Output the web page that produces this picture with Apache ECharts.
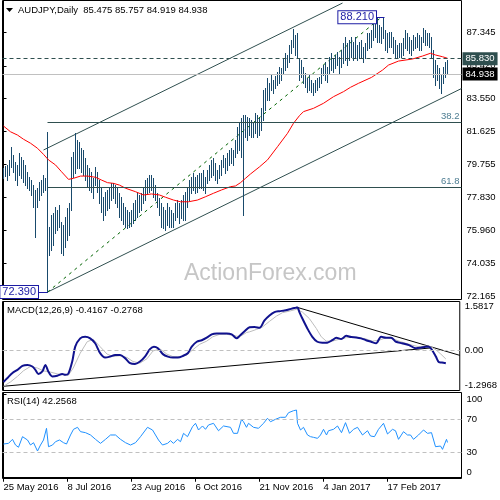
<!DOCTYPE html>
<html><head><meta charset="utf-8">
<script src="https://cdn.jsdelivr.net/npm/echarts@6/dist/echarts.min.js"></script>
<style>html,body{margin:0;padding:0;background:#fff}#c{width:500px;height:500px}</style>
</head><body><div id="c"></div>
<script>
// ---- data ----
const highs = [
79.53,79.65,79.71,79.99,80.74,80.28,79.88,79.71,80.40,80.17,
79.99,79.71,79.30,79.02,78.84,78.56,78.27,78.38,78.73,78.84,
79.13,78.96,81.61,76.14,76.83,76.94,77.29,77.12,77.40,76.43,
76.25,76.71,77.23,77.52,80.17,80.46,81.55,81.15,81.03,80.69,
80.57,80.11,79.71,79.53,79.30,78.96,79.59,79.30,78.84,78.38,
77.86,78.15,78.27,78.38,78.67,78.67,78.56,78.44,78.09,77.86,
77.52,77.29,77.12,77.00,77.12,77.52,77.69,78.09,77.98,78.09,
78.44,78.84,78.96,79.13,79.13,78.96,78.56,78.09,77.81,77.52,
77.29,77.12,77.52,77.29,77.12,76.94,77.52,77.69,77.52,77.69,
77.98,78.15,78.44,78.84,79.02,79.25,79.02,79.13,79.25,79.25,
79.42,79.02,79.42,79.71,79.99,80.11,79.82,79.42,79.71,79.99,
80.28,80.11,80.40,80.57,80.69,80.57,81.15,81.89,82.18,82.41,
82.59,82.59,82.47,82.41,82.30,82.12,82.70,82.59,82.41,82.99,
84.02,84.14,84.72,84.43,84.89,84.60,84.83,85.06,85.35,85.29,
85.87,86.16,86.04,86.61,86.90,87.54,87.19,87.31,85.87,85.75,
85.35,85.00,84.72,84.89,84.60,84.43,84.60,84.72,84.77,85.29,
85.46,85.64,85.35,85.92,86.16,85.87,86.04,86.21,85.92,86.33,
86.73,87.08,86.73,86.90,87.08,86.79,87.08,86.61,86.79,86.90,
86.50,86.73,87.31,87.31,87.48,87.88,88.05,88.17,87.77,87.65,
88.21,87.48,87.31,87.36,87.36,87.08,86.90,86.61,86.73,86.73,
87.02,87.48,87.31,87.08,86.90,87.19,87.08,87.31,87.19,87.08,
87.59,87.48,87.31,87.31,87.08,86.33,85.75,85.46,85.29,84.89,
85.35,85.64,85.757];
const lows = [
78.96,79.07,78.84,79.13,79.59,79.30,78.84,78.56,79.13,78.96,
78.73,78.56,78.38,78.27,77.98,77.29,75.56,77.29,77.69,77.98,
78.15,78.27,72.39,74.52,74.81,75.10,75.79,75.96,76.14,74.64,
74.52,74.99,75.39,75.68,77.12,79.02,79.25,79.53,79.53,79.30,
79.13,78.84,78.44,78.27,78.15,77.81,78.56,78.15,77.52,77.00,
76.54,76.83,77.12,77.23,77.69,77.81,77.52,77.29,76.71,76.54,
76.31,76.14,76.08,76.14,76.20,76.37,76.54,76.71,77.00,77.12,
77.52,77.69,78.09,78.15,78.27,77.86,77.69,77.29,76.83,76.14,
76.08,75.96,76.25,76.14,76.14,76.14,76.54,76.71,76.37,76.66,
76.54,76.54,77.29,77.69,78.09,78.27,78.09,78.15,78.38,78.38,
78.27,78.09,78.67,78.84,79.02,79.13,78.84,78.67,78.96,79.13,
79.59,79.25,79.42,79.71,79.82,79.71,80.17,80.40,80.57,80.17,
76.83,81.32,81.15,81.43,81.32,81.32,81.55,81.32,81.43,81.72,
82.30,82.87,83.45,83.45,84.02,83.85,84.14,84.31,84.43,84.60,
85.00,85.18,85.35,85.64,86.16,86.50,86.04,85.92,84.60,84.77,
84.43,84.20,83.91,84.02,83.91,83.74,83.91,84.02,84.20,84.43,
84.89,84.60,84.49,85.00,85.18,85.06,85.29,85.46,85.00,85.35,
85.58,85.75,85.46,85.75,85.92,85.75,85.92,85.75,85.87,85.92,
85.64,85.87,86.33,86.44,86.50,86.90,87.08,86.79,86.79,86.73,
87.02,86.33,86.21,86.50,86.50,86.16,85.92,85.87,85.92,85.92,
86.04,86.44,86.33,86.16,86.04,86.33,86.44,86.50,86.33,86.33,
86.79,86.61,86.61,86.50,85.92,84.77,84.31,84.60,84.14,83.85,
84.43,84.77,84.919];
const maPoints = [[0,81.95],[3.5,81.62],[7,81.43],[10,81.19],[13.5,80.96],[17,80.67],[20,80.32],[22.5,80.0],[26,79.71],[29,79.32],[32.5,78.88],[35,78.94],[38.5,79.07],[42,79.07],[46,79.0],[49,78.84],[52,78.69],[55,78.65],[58,78.55],[61,78.37],[66,78.17],[70,77.98],[74,78.04],[78,77.98],[81,77.85],[85,77.69],[88.5,77.59],[92.5,77.59],[97,77.69],[101,77.88],[105,78.08],[109,78.27],[113.5,78.46],[116,78.5],[118.5,78.69],[121,78.94],[123.5,79.19],[128,79.6],[132,80.0],[137,80.76],[142,81.53],[145,82.11],[148,82.55],[150,82.78],[155,82.97],[160,83.26],[165,83.64],[170,83.93],[173.5,84.18],[177.5,84.41],[184,84.75],[189.5,85.17],[192.5,85.46],[197.5,85.69],[204.5,85.81],[209.5,85.98],[213.5,86.14],[216,86.04],[219.5,85.94],[222,85.85]];
const macdPoints = [[0,-1.02],[2,-0.89],[4.5,-0.73],[7,-0.63],[9.5,-0.50],[12,-0.47],[14.5,-0.52],[16,-0.63],[17.5,-0.76],[19.5,-0.68],[21,-0.47],[22.5,-0.68],[24.5,-0.84],[27,-0.82],[29.5,-0.76],[31,-0.79],[32.5,-0.76],[34.5,-0.36],[36,0.12],[38.5,0.39],[41,0.44],[43.5,0.39],[46,0.23],[48.5,-0.09],[51,-0.23],[53.5,-0.20],[56,-0.15],[58.5,-0.15],[61,-0.25],[63.5,-0.41],[66,-0.44],[68.5,-0.36],[71,-0.20],[73.5,0.04],[75.5,0.12],[77.5,0.07],[80,-0.12],[82.5,-0.20],[85,-0.23],[87.5,-0.23],[90,-0.18],[92.5,-0.09],[94.5,0.12],[97,0.28],[99.5,0.33],[102,0.41],[104.5,0.52],[107,0.55],[109.5,0.55],[112,0.55],[114.5,0.52],[117,0.39],[118.5,0.47],[121,0.62],[123.5,0.75],[126,0.76],[128.5,0.73],[131,0.97],[133.5,1.13],[136,1.24],[138.5,1.27],[141,1.29],[143.5,1.33],[146,1.37],[147.5,1.39],[148.5,1.24],[150,1.03],[152.5,0.71],[155,0.44],[157.5,0.28],[160,0.25],[162.5,0.25],[165,0.33],[167,0.41],[169.5,0.37],[172,0.47],[174.5,0.43],[177,0.42],[179.5,0.39],[182,0.33],[184.5,0.28],[187,0.23],[189.5,0.44],[192,0.41],[194.5,0.41],[197,0.28],[200,0.23],[203.5,0.17],[207,0.07],[209.5,0.09],[212,0.12],[213.5,0.12],[215,0.02],[217,-0.20],[218.5,-0.38],[220,-0.39],[222,-0.4167]];
const signalPoints = [[0,-1.16],[3.5,-1.02],[7,-0.84],[10,-0.66],[13.5,-0.52],[17,-0.57],[20,-0.66],[23.5,-0.70],[27,-0.76],[30,-0.79],[32.5,-0.81],[35,-0.57],[38.5,-0.09],[42,0.28],[45,0.36],[48.5,0.12],[52,-0.12],[55,-0.20],[58.5,-0.17],[62,-0.23],[65,-0.36],[68.5,-0.41],[72,-0.27],[75,-0.02],[78.5,0.05],[82,-0.12],[85,-0.20],[88.5,-0.21],[92,-0.15],[95,0.02],[98.5,0.20],[102,0.30],[105,0.44],[108.5,0.52],[112,0.52],[115,0.49],[118.5,0.44],[122,0.58],[123.5,0.60],[127,0.68],[130,0.76],[133.5,0.94],[137,1.11],[140,1.22],[143.5,1.27],[147,1.33],[150,1.24],[153.5,1.03],[157,0.71],[159.5,0.44],[162,0.30],[165,0.30],[168.5,0.36],[172,0.41],[177,0.43],[182,0.37],[185,0.30],[188.5,0.33],[192,0.41],[195,0.39],[198.5,0.30],[202,0.23],[205,0.17],[208.5,0.12],[212,0.14],[214.5,0.12],[217,0.02],[219.5,-0.12],[222,-0.2768]];
const rsiPoints = [[0,40.4],[2.5,41.2],[4.5,46],[6,39.2],[7.5,36.5],[9.5,49.2],[12,45.2],[13.5,39.2],[15,42],[17,32],[18.5,39.2],[20,45.2],[21.5,59.2],[22.5,37.2],[24.5,39.2],[26,43.2],[28,45.2],[30,42],[31.5,40.4],[33.5,51.2],[35,58],[37,60.4],[38.5,55.2],[41,54],[43.5,51.2],[46,46],[48.5,41.2],[51,46],[53.5,51.2],[56,51.2],[58.5,46],[61,42],[63.5,39.2],[66,42],[68.5,49.2],[72,60.4],[74.5,57.2],[76,51.2],[77.5,45.2],[79.5,39.2],[82,41.2],[83.5,44.4],[85,41.2],[87,46],[88.5,43.2],[90,53.2],[92,49.2],[94.5,61.1],[96,65.2],[97.5,57.2],[99.5,62],[101,58],[102.5,63.2],[105,65.2],[107.5,56.3],[110,62],[113.5,60.4],[115,53.2],[117,53.2],[119,70],[120,67.1],[121.5,60.4],[122.5,65.2],[123.5,67.1],[125,60.4],[127.5,59.2],[130,65.2],[132,71.2],[133.5,67.1],[136,70],[138.5,72.4],[141,72.4],[142.5,77.9],[145,80.3],[146.5,81.1],[147,65.2],[148.5,57.2],[150,60.4],[152,51.2],[153.5,49.2],[155,48.4],[157,47.2],[158.5,51.2],[160,58],[161.5,51.2],[162.5,56.3],[165,58],[167,62],[169,54],[171,66],[173,53.2],[175,58],[177,60.4],[179.5,51.2],[182,56.3],[183.5,50],[185.5,49.2],[187.5,58],[190,65.2],[192,52.4],[194.5,58],[196,56.3],[197.5,46],[200,55.2],[202,51.2],[203.5,51.2],[205,46],[207.5,51.2],[210,57.2],[212,53.2],[214,54],[216,37.2],[217,35.3],[218.5,38],[219.5,34],[221.5,46],[222,42.26]];
const dateTicks = [0,32,64,96,128,160,192];
const dateLabels = ['25 May 2016','8 Jul 2016','23 Aug 2016','6 Oct 2016','21 Nov 2016','4 Jan 2017','17 Feb 2017'];
const priceTicks = [72.165,74.035,75.960,77.830,79.755,81.625,83.550,85.420,87.345];
const macdTicks = [-1.2968,0,1.5817];
const rsiTicks = [0,30,70,100];
const lastOHLC = ['85.475','85.757','84.919','84.938'];
const macdLast = ['-0.4167','-0.2768'];
const rsiLast = '42.2568';
const swingHigh = 88.21, swingLow = 72.39;
const fib382 = 82.167, fib618 = 78.433;
const levelDashed = 85.83, lastClose = 84.938;
const upperChannel = [[20,80.57],[169.5,89.03]];
const lowerChannel = [[22,72.39],[229,84.11]];
const greenTrend = [[22,72.39],[188.5,88.17]];
const macdLowerTrend = [[0,-1.16],[214.5,0.08]];
const macdUpperTrend = [[147,1.40],[229,-0.16]];

// ---- chart ----
const FONT = 'Liberation Sans';
const chart = echarts.init(document.getElementById('c'));
const xBase = {type:'value', min:-0.5, max:229, splitLine:{show:false}};
const frame = {show:true, borderColor:'#000', borderWidth:1, backgroundColor:'transparent', containLabel:false};
const yLabelBase = {fontSize:9.5, color:'#000', fontFamily:FONT, margin:5};
const lineSeg = (data, xi, color, type) => ({type:'line', xAxisIndex:xi, yAxisIndex:xi, data, symbol:'none', silent:true,
  lineStyle:{color, width:1, type:type||'solid'}, z:1});

chart.setOption({
  animation:false,
  grid:[
    Object.assign({left:2.5, top:0.5, width:459, height:299}, frame),
    Object.assign({left:2.5, top:301.5, width:459, height:89}, frame),
    Object.assign({left:2.5, top:392.5, width:459, height:86}, frame)
  ],
  xAxis:[
    Object.assign({gridIndex:0, show:false}, xBase),
    Object.assign({gridIndex:1, show:false}, xBase),
    Object.assign({gridIndex:2, axisLine:{show:true, lineStyle:{color:'#000'}},
      axisTick:{show:true, customValues:dateTicks, length:4, lineStyle:{color:'#000'}},
      axisLabel:{customValues:dateTicks, formatter:v=>dateLabels[dateTicks.indexOf(v)] || '', align:'left',
        fontSize:9.5, color:'#000', fontFamily:FONT, margin:4}}, xBase)
  ],
  yAxis:[
    {gridIndex:0, type:'value', position:'right', min:71.964, max:89.177, splitLine:{show:false},
      axisLine:{show:true, lineStyle:{color:'#000'}},
      axisTick:{show:true, customValues:priceTicks, length:3, lineStyle:{color:'#000'}},
      axisLabel:Object.assign({customValues:priceTicks, formatter:v=>v.toFixed(3)}, yLabelBase)},
    {gridIndex:1, type:'value', position:'right', min:-1.2968, max:1.5817, splitLine:{show:false},
      axisLine:{show:true, lineStyle:{color:'#000'}},
      axisTick:{show:true, customValues:macdTicks, length:3, lineStyle:{color:'#000'}},
      axisLabel:Object.assign({customValues:macdTicks, formatter:v=>v===0?'0.00':v.toFixed(4),
        verticalAlignMinLabel:'bottom', verticalAlignMaxLabel:'top'}, yLabelBase)},
    {gridIndex:2, type:'value', position:'right', min:-0.9, max:102.1, splitLine:{show:false},
      axisLine:{show:true, lineStyle:{color:'#000'}},
      axisTick:{show:true, customValues:rsiTicks, length:3, lineStyle:{color:'#000'}},
      axisLabel:Object.assign({customValues:rsiTicks, formatter:v=>String(Math.round(v)),
        verticalAlignMinLabel:'bottom', verticalAlignMaxLabel:'top'}, yLabelBase)}
  ],
  graphic:[
    {type:'polygon', shape:{points:[[6,8],[13,8],[9.5,12]]}, style:{fill:'#000'}},
    {type:'text', x:18, y:10.5, style:{text:'AUDJPY,Daily  ' + lastOHLC.join(' '), fill:'#000', font:'9.5px "'+FONT+'"', verticalAlign:'middle'}},
    {type:'text', x:7, y:310, style:{text:'MACD(12,26,9) ' + macdLast.join(' '), fill:'#000', font:'9.5px "'+FONT+'"', verticalAlign:'middle'}},
    {type:'text', x:7, y:401.5, style:{text:'RSI(14) ' + rsiLast, fill:'#000', font:'9.5px "'+FONT+'"', verticalAlign:'middle'}},
    {type:'text', x:184, y:274, z:-1, style:{text:'ActionForex.com', fill:'#c6c6c6', font:'23px "'+FONT+'"', verticalAlign:'middle'}}
  ],
  series:[
    lineSeg(upperChannel, 0, '#2f4f4f'),
    lineSeg(lowerChannel, 0, '#2f4f4f'),
    lineSeg(greenTrend, 0, '#006400', [3,4]),
    {type:'custom', xAxisIndex:0, yAxisIndex:0, silent:true, z:3,
      dimensions:['i','h','l'], encode:{x:0, y:[1,2]},
      data: highs.map((h,i)=>[i,h,lows[i]]),
      renderItem:(params, api)=>{
        const a = api.coord([api.value(0), api.value(1)]);
        const b = api.coord([api.value(0), api.value(2)]);
        const x = Math.floor(a[0]) + 0.5;
        return {type:'line', shape:{x1:x, y1:Math.round(a[1]), x2:x, y2:Math.round(b[1])+1},
          style:{stroke:'#194a6c', lineWidth:1}};
      }},
    {type:'line', xAxisIndex:0, yAxisIndex:0, data:maPoints, symbol:'none', silent:true, z:4,
      lineStyle:{color:'#ff0000', width:1},
      markLine:{silent:true, symbol:['none','none'], label:{show:false},
        data:[
          {yAxis:levelDashed, lineStyle:{color:'#2f4f4f', type:[4,3], width:1},
            label:{show:true, position:'end', distance:1, formatter:'85.830', color:'#fff', backgroundColor:'#2f4f4f',
              padding:[2,3,1,3], fontSize:9.5, fontFamily:FONT}},
          {yAxis:lastClose, lineStyle:{color:'#c0c0c0', type:'solid', width:1},
            label:{show:true, position:'end', distance:1, formatter:'84.938', color:'#fff', backgroundColor:'#000',
              padding:[2,3,1,3], fontSize:9.5, fontFamily:FONT}},
          [{coord:[22,fib382], lineStyle:{color:'#2f4f4f', type:'solid', width:1},
             label:{show:true, position:'insideEndTop', distance:[2,1], formatter:'38.2', color:'#4d7d92', fontSize:9.5, fontFamily:FONT}},
           {coord:[229,fib382]}],
          [{coord:[22,fib618], lineStyle:{color:'#2f4f4f', type:'solid', width:1},
             label:{show:true, position:'insideEndTop', distance:[2,1], formatter:'61.8', color:'#4d7d92', fontSize:9.5, fontFamily:FONT}},
           {coord:[229,fib618]}],
          [{coord:[186.5,swingHigh], lineStyle:{color:'#1c1ca4', type:'solid', width:1}}, {coord:[190.5,swingHigh]}],
          [{coord:[17.25,swingLow], lineStyle:{color:'#1c1ca4', type:'solid', width:1}}, {coord:[22,swingLow]}]
        ]},
      markPoint:{silent:true, symbol:'circle', symbolSize:1, itemStyle:{color:'rgba(0,0,0,0)'},
        data:[
          {coord:[190.5,swingHigh], label:{show:true, position:'left', distance:8, formatter:'88.210', color:'#1c1ca4',
            backgroundColor:'#fff', borderColor:'#1c1ca4', borderWidth:1, padding:[1,2,0,2], fontSize:11, fontFamily:FONT}},
          {coord:[22,swingLow], label:{show:true, position:'left', distance:9, formatter:'72.390', color:'#1c1ca4',
            backgroundColor:'#fff', borderColor:'#1c1ca4', borderWidth:1, padding:[1,2,0,2], fontSize:11, fontFamily:FONT}}
        ]}
    },
    lineSeg(macdLowerTrend, 1, '#000'),
    lineSeg(macdUpperTrend, 1, '#000'),
    {type:'line', xAxisIndex:1, yAxisIndex:1, data:signalPoints, symbol:'none', silent:true, z:2,
      lineStyle:{color:'#bdbdbd', width:1},
      markLine:{silent:true, symbol:['none','none'], label:{show:false},
        data:[{yAxis:0, lineStyle:{color:'#c0c0c0', type:[4,3], width:1}}]}},
    {type:'line', xAxisIndex:1, yAxisIndex:1, data:macdPoints, symbol:'none', silent:true, z:3, smooth:0.3,
      lineStyle:{color:'#10128e', width:2}},
    {type:'line', xAxisIndex:2, yAxisIndex:2, data:rsiPoints, symbol:'none', silent:true, z:3,
      lineStyle:{color:'#1e90ff', width:1},
      markLine:{silent:true, symbol:['none','none'], label:{show:false},
        data:[{yAxis:70, lineStyle:{color:'#c0c0c0', type:[4,3], width:1}},
              {yAxis:30, lineStyle:{color:'#c0c0c0', type:[4,3], width:1}}]}}
  ]
});
</script></body></html>
